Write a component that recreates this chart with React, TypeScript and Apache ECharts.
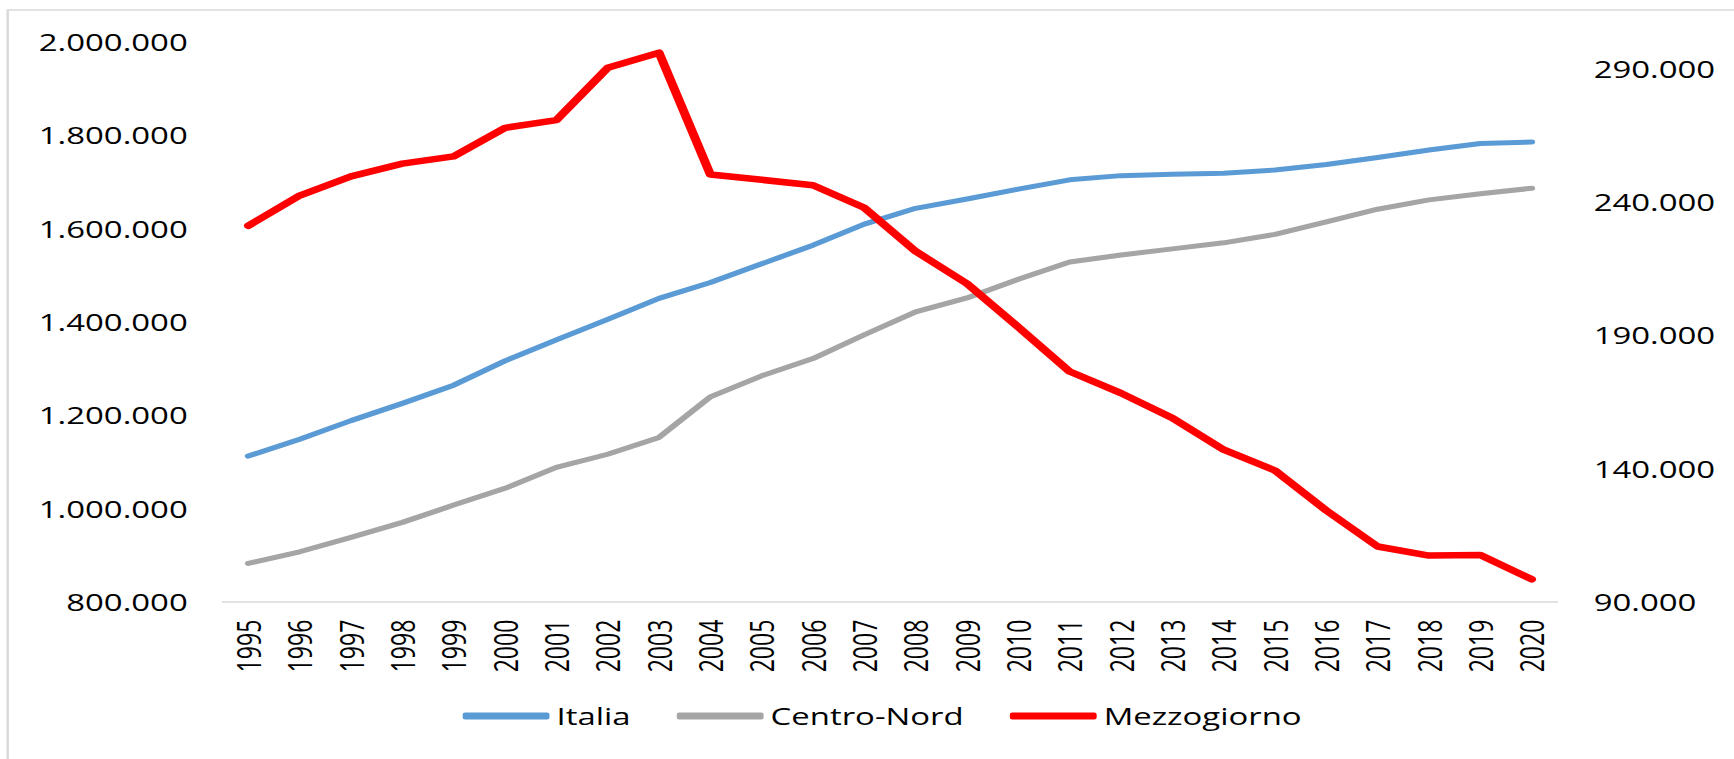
import React, { useEffect, useRef } from "react";
import * as echarts from "echarts";

const years = [
  "1995", "1996", "1997", "1998", "1999", "2000", "2001", "2002", "2003", "2004",
  "2005", "2006", "2007", "2008", "2009", "2010", "2011", "2012", "2013", "2014",
  "2015", "2016", "2017", "2018", "2019", "2020",
];

const italia = [
  1112000, 1148000, 1188000, 1225000, 1264000, 1316000, 1361000, 1405000, 1450000, 1484000,
  1524000, 1564000, 1609000, 1643000, 1663000, 1684000, 1704000, 1713000, 1716000, 1718000,
  1725000, 1737000, 1752000, 1768000, 1782000, 1785000,
];

const centroNord = [
  882000, 907000, 938000, 970000, 1007000, 1043000, 1088000, 1116000, 1152000, 1239000,
  1284000, 1321000, 1372000, 1421000, 1451000, 1491000, 1528000, 1543000, 1556000, 1569000,
  1587000, 1614000, 1641000, 1661000, 1674000, 1686000,
];

const mezzogiorno = [
  231000, 242300, 249500, 254300, 257000, 267700, 270600, 290200, 295900, 250200,
  248200, 246200, 237700, 221400, 209300, 193000, 176300, 168200, 158900, 147000,
  139200, 124200, 110700, 107300, 107500, 98400,
];

const leftAxisRange = { min: 800000, max: 2000000, interval: 200000 };
const rightAxisRange = { min: 90000, max: 300000 };
const rightTicks = [90000, 140000, 190000, 240000, 290000];

const seriesNames = ["Italia", "Centro-Nord", "Mezzogiorno"];
const colors = ["#5b9bd5", "#a5a5a5", "#ff0000"];

const STRETCH = 1.4;
const FULL_W = 1734;
const FULL_H = 759;
const FONT = "'Open Sans', 'Noto Sans', sans-serif";

const fmt = (v: number) =>
  String(Math.round(v)).replace(/\B(?=(\d{3})+(?!\d))/g, ".");

export default function App() {
  const ref = useRef<HTMLDivElement>(null);

  useEffect(() => {
    if (!ref.current) return;
    const chart = echarts.init(ref.current, null, { renderer: "svg" });
    const sx = (x: number) => x / STRETCH;

    chart.setOption({
      animation: false,
      backgroundColor: "#ffffff",
      textStyle: { fontFamily: FONT, color: "#000" },
      graphic: [
        {
          type: "rect",
          shape: { x: sx(7.7), y: 10, width: 3000, height: 3000 },
          style: { fill: "none", stroke: "#d9d9d9", lineWidth: 1.7 },
          silent: true,
          z: -1,
        },
      ],
      grid: {
        left: sx(222.7),
        right: sx(FULL_W - 1556.7),
        top: 41.7,
        bottom: FULL_H - 601.7,
        containLabel: false,
      },
      legend: {
        data: seriesNames,
        left: sx(462.7),
        top: 704,
        padding: 0,
        icon: "roundRect",
        itemWidth: 62,
        itemHeight: 7,
        itemGap: 33,
        textStyle: { fontFamily: FONT, fontSize: 23.5, color: "#000" },
      },
      xAxis: {
        type: "category",
        data: years,
        boundaryGap: true,
        axisLine: { lineStyle: { color: "#d9d9d9", width: 1.5 } },
        axisTick: { show: false },
        axisLabel: {
          rotate: 90,
          interval: 0,
          margin: 18,
          fontFamily: FONT,
          fontSize: 23,
          color: "#000",
        },
        splitLine: { show: false },
      },
      yAxis: [
        {
          type: "value",
          position: "left",
          min: leftAxisRange.min,
          max: leftAxisRange.max,
          interval: leftAxisRange.interval,
          axisLine: { show: false },
          axisTick: { show: false },
          splitLine: { show: false },
          axisLabel: {
            margin: 25,
            fontFamily: FONT,
            fontSize: 23.5,
            color: "#000",
            formatter: fmt,
          },
        },
        {
          type: "value",
          position: "right",
          min: rightAxisRange.min,
          max: rightAxisRange.max,
          axisLine: { show: false },
          axisTick: { show: false },
          splitLine: { show: false },
          axisLabel: {
            margin: 26,
            fontFamily: FONT,
            fontSize: 23.5,
            color: "#000",
            customValues: rightTicks,
            formatter: fmt,
          },
        },
      ],
      series: [
        {
          name: seriesNames[0],
          type: "line",
          yAxisIndex: 0,
          data: italia,
          symbol: "none",
          color: colors[0],
          lineStyle: { color: colors[0], width: 5, cap: "round", join: "round" },
        },
        {
          name: seriesNames[1],
          type: "line",
          yAxisIndex: 0,
          data: centroNord,
          symbol: "none",
          color: colors[1],
          lineStyle: { color: colors[1], width: 5, cap: "round", join: "round" },
        },
        {
          name: seriesNames[2],
          type: "line",
          yAxisIndex: 1,
          data: mezzogiorno,
          symbol: "none",
          color: colors[2],
          lineStyle: { color: colors[2], width: 6.5, cap: "round", join: "round" },
        },
      ],
    });

    return () => {
      chart.dispose();
    };
  }, []);

  return (
    <div
      style={{
        position: "absolute",
        left: 0,
        top: 0,
        width: FULL_W,
        height: FULL_H,
        overflow: "hidden",
        background: "#fff",
      }}
    >
      <div
        ref={ref}
        style={{
          width: FULL_W / STRETCH,
          height: FULL_H,
          transform: `scaleX(${STRETCH})`,
          transformOrigin: "0 0",
        }}
      />
    </div>
  );
}
